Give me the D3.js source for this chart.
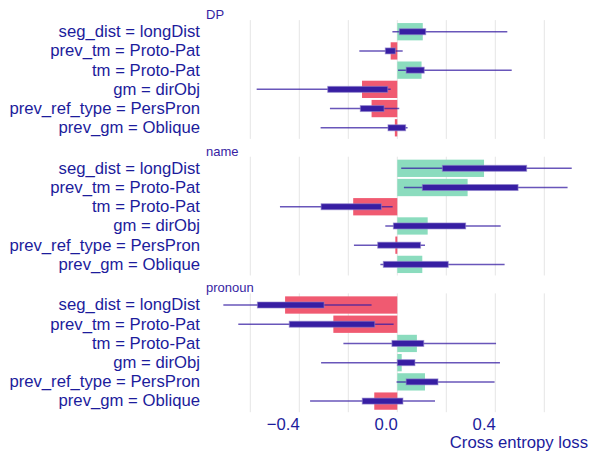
<!DOCTYPE html>
<html>
<head>
<meta charset="utf-8">
<script src="https://cdn.jsdelivr.net/npm/d3@7"></script>
<style>
  body { margin: 0; background: #fff; }
  text { font-family: "Liberation Sans", Arial, sans-serif; }
</style>
</head>
<body>
<svg id="chart" width="589" height="452"></svg>
<script>
// facets and variables
let panels = ["DP", "name", "pronoun"];
let variables = ["seg_dist = longDist", "prev_tm = Proto-Pat", "tm = Proto-Pat",
  "gm = dirObj", "prev_ref_type = PersPron", "prev_gm = Oblique"];

// mean contribution per panel (bars)
let contrib = [
  [0.104, -0.027, 0.099, -0.144, -0.105, -0.010],
  [0.354, 0.287, -0.180, 0.124, -0.008, 0.102],
  [-0.458, -0.261, 0.080, 0.018, 0.113, -0.094]];

// boxplot: quartiles and whiskers
let boxLow = [
  [0.008, -0.049, 0.036, -0.284, -0.151, -0.038],
  [0.184, 0.102, -0.311, -0.016, -0.080, -0.057],
  [-0.571, -0.441, -0.022, 0.000, 0.036, -0.143]];
let boxHigh = [
  [0.116, -0.008, 0.110, -0.039, -0.054, 0.034],
  [0.528, 0.493, -0.065, 0.279, 0.095, 0.208],
  [-0.299, -0.092, 0.108, 0.072, 0.166, 0.023]];
let whiskLow = [
  [-0.020, -0.155, 0.003, -0.574, -0.275, -0.313],
  [0.016, 0.027, -0.479, -0.049, -0.177, -0.069],
  [-0.710, -0.649, -0.220, -0.311, -0.003, -0.356]];
let whiskHigh = [
  [0.449, 0.022, 0.467, -0.027, 0.008, 0.042],
  [0.712, 0.695, -0.019, 0.422, 0.113, 0.438],
  [-0.105, -0.015, 0.403, 0.419, 0.397, 0.154]];

let gridTicks = [-0.6, -0.4, -0.2, 0, 0.2, 0.4, 0.6];
let labelTicks = [-0.4, 0, 0.4];

let svg = d3.select("#chart");
const cLabelColor = "#1c1c9c";
const cPurple = "#371ea3";
const cFont = "16.7px";

let x = d3.scaleLinear().
domain([(205 - 397.3) / 245, (589 - 397.3) / 245]).
range([205, 589]);

let panelTop = [22.1, 158.7, 295.4];
const cPanelH = 115.3;

panels.forEach((p, pi) => {
  let y0 = panelTop[pi];
  let y = d3.scaleBand().
  domain(variables).
  range([y0, y0 + cPanelH]).
  paddingInner(0.1).
  paddingOuter(0.05);

  let g = svg.append("g");

  g.selectAll("line.grid").
  data(gridTicks).
  enter().append("line").
  attr("class", "grid").
  attr("x1", d => x(d)).
  attr("x2", d => x(d)).
  attr("y1", y0 - 2).
  attr("y2", y0 + cPanelH + 1.5).
  attr("stroke", "#e5e5e5").
  attr("stroke-width", 1);

  g.append("text").
  attr("x", 206).
  attr("y", y0 - 3).
  attr("fill", cPurple).
  style("font-size", "13px").
  text(p);

  let rows = variables.map((v, i) => ({
    v: v, c: contrib[pi][i],
    bl: boxLow[pi][i], bh: boxHigh[pi][i],
    wl: whiskLow[pi][i], wh: whiskHigh[pi][i] }));

  g.selectAll("rect.bar").
  data(rows).
  enter().append("rect").
  attr("class", "bar").
  attr("x", d => x(Math.min(0, d.c))).
  attr("width", d => Math.abs(x(d.c) - x(0))).
  attr("y", d => y(d.v)).
  attr("height", y.bandwidth()).
  attr("fill", d => d.c >= 0 ? "#8bdcbe" : "#f05a71");

  g.selectAll("line.whisk").
  data(rows).
  enter().append("line").
  attr("class", "whisk").
  attr("x1", d => x(d.wl)).
  attr("x2", d => x(d.wh)).
  attr("y1", d => y(d.v) + y.bandwidth() / 2).
  attr("y2", d => y(d.v) + y.bandwidth() / 2).
  attr("stroke", cPurple).
  attr("stroke-opacity", 0.75).
  attr("stroke-width", 1.5);

  g.selectAll("rect.box").
  data(rows).
  enter().append("rect").
  attr("class", "box").
  attr("x", d => x(d.bl)).
  attr("width", d => x(d.bh) - x(d.bl)).
  attr("y", d => y(d.v) + y.bandwidth() / 2 - 3).
  attr("height", 6).
  attr("fill", cPurple).
  attr("stroke", "#8f82cc").
  attr("stroke-opacity", 0.6).
  attr("stroke-width", 1);

  let yAxis = g.append("g").
  attr("transform", "translate(202,0)").
  call(d3.axisLeft(y).tickSize(0).tickPadding(2));
  yAxis.select(".domain").remove();
  yAxis.selectAll("text").
  attr("fill", cLabelColor).
  style("font-size", cFont).
  style("font-family", "'Liberation Sans', Arial, sans-serif");
});

let xAxis = svg.append("g").
attr("transform", "translate(0,414)").
call(d3.axisBottom(x).tickValues(labelTicks).tickSize(0).tickPadding(4).
tickFormat(d3.format(".1f")));
xAxis.select(".domain").remove();
xAxis.selectAll("text").
attr("text-anchor", "end").
attr("fill", cLabelColor).
style("font-size", cFont).
style("font-family", "'Liberation Sans', Arial, sans-serif");

svg.append("text").
attr("x", 588).
attr("y", 448).
attr("text-anchor", "end").
attr("fill", cLabelColor).
style("font-size", cFont).
text("Cross entropy loss");
</script>
</body>
</html>
